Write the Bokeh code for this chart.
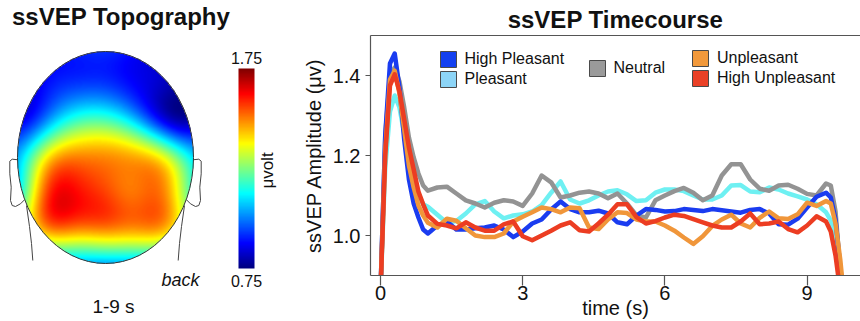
import numpy as np
from bokeh.plotting import figure
from bokeh.models import (Range1d, LinearAxis, FixedTicker, Legend, LegendItem, Label, Title,
                          LinearColorMapper, ColorBar, PrintfTickFormatter, ColumnDataSource)
from bokeh.layouts import row
from bokeh.embed import file_html
from bokeh.resources import INLINE

FONT = "Liberation Sans"
TXT = "#111111"
AX = "#555555"
W, H = 860, 321

# ---------------- timecourse data ----------------
TIME_S = [0.0, 0.1, 0.2, 0.3, 0.4, 0.5, 0.6, 0.7, 0.8, 0.9,
          1.0, 1.2, 1.4, 1.6, 1.8, 2.0, 2.2, 2.4, 2.6, 2.8,
          3.0, 3.2, 3.4, 3.6, 3.8, 4.0, 4.2, 4.4, 4.6, 4.8,
          5.0, 5.2, 5.4, 5.6, 5.8, 6.0, 6.2, 6.4, 6.6, 6.8,
          7.0, 7.2, 7.4, 7.6, 7.8, 8.0, 8.2, 8.4, 8.6, 8.8,
          9.0, 9.2, 9.4, 9.5, 9.6, 9.7, 9.8]

HIGH_PLEASANT = [0.86, 1.25, 1.43, 1.455, 1.37, 1.24, 1.14, 1.08, 1.045, 1.015,
                 1.005, 1.025, 1.035, 1.015, 1.015, 1.018, 1.02, 1.025, 1.015, 0.996,
                 1.01, 1.03, 1.04, 1.065, 1.085, 1.066, 1.058, 1.058, 1.062, 1.055,
                 1.033, 1.028, 1.05, 1.066, 1.064, 1.06, 1.061, 1.066, 1.064, 1.061,
                 1.066, 1.063, 1.06, 1.057, 1.064, 1.066, 1.055, 1.028, 1.027, 1.042,
                 1.07, 1.097, 1.107, 1.095, 1.04, 0.92, 0.82]

PLEASANT = [0.86, 1.17, 1.31, 1.35, 1.32, 1.255, 1.19, 1.14, 1.105, 1.078,
            1.072, 1.052, 1.032, 1.036, 1.055, 1.078, 1.086, 1.06, 1.043, 1.05,
            1.053, 1.06, 1.076, 1.107, 1.135, 1.09, 1.08, 1.088, 1.1, 1.11,
            1.113, 1.103, 1.086, 1.088, 1.107, 1.115, 1.115, 1.111, 1.1, 1.09,
            1.09, 1.1, 1.125, 1.126, 1.11, 1.108, 1.12, 1.115, 1.105, 1.098,
            1.09, 1.078, 1.058, 1.038, 0.992, 0.91, 0.82]

NEUTRAL = [0.86, 1.25, 1.40, 1.42, 1.385, 1.32, 1.245, 1.195, 1.155, 1.125,
           1.112, 1.12, 1.122, 1.105, 1.088, 1.08, 1.07, 1.082, 1.088, 1.085,
           1.074, 1.105, 1.15, 1.133, 1.095, 1.10, 1.107, 1.11, 1.105, 1.093,
           1.105, 1.08, 1.05, 1.045, 1.088, 1.1, 1.111, 1.119, 1.107, 1.088,
           1.1, 1.15, 1.178, 1.178, 1.14, 1.117, 1.112, 1.125, 1.127, 1.117,
           1.104, 1.1, 1.13, 1.125, 1.06, 0.91, 0.80]

UNPLEASANT = [0.86, 1.21, 1.39, 1.412, 1.355, 1.265, 1.175, 1.12, 1.075, 1.05,
              1.032, 1.02, 1.042, 1.037, 1.018, 1.0, 0.996, 0.996, 1.005, 1.035,
              1.047, 1.058, 1.07, 1.066, 1.058, 1.07, 1.068, 1.02, 1.016, 1.04,
              1.058, 1.056, 1.04, 1.035, 1.035, 1.025, 1.012, 0.995, 0.979, 0.998,
              1.024, 1.04, 1.052, 1.03, 1.02, 1.044, 1.06, 1.043, 1.041, 1.053,
              1.082, 1.074, 1.086, 1.08, 1.03, 0.94, 0.82]

HIGH_UNPLEASANT = [0.86, 1.2, 1.375, 1.403, 1.36, 1.29, 1.22, 1.165, 1.11, 1.078,
                   1.05, 1.029, 1.025, 1.018, 1.033, 1.02, 1.012, 1.012, 1.028, 1.035,
                   0.998, 0.988, 1.0, 1.012, 1.025, 1.033, 1.013, 1.01, 1.03, 1.052,
                   1.078, 1.078, 1.046, 1.03, 1.036, 1.045, 1.052, 1.049, 1.041, 1.033,
                   1.025, 1.02, 1.02, 1.035, 1.055, 1.028, 1.03, 1.035, 1.016, 1.008,
                   1.025, 1.048, 1.035, 1.01, 0.95, 0.86, 0.80]

SERIES_NAMES = ["High Pleasant", "Pleasant", "Neutral", "Unpleasant", "High Unpleasant"]
LINE_COLORS = {"High Pleasant": "#1a3cf0", "Pleasant": "#6ef0f2", "Neutral": "#939393",
               "Unpleasant": "#f0963a", "High Unpleasant": "#ec3d22"}
SWATCH_COLORS = {"High Pleasant": "#1340f0", "Pleasant": "#8dd5f7", "Neutral": "#9a9a9a",
                 "Unpleasant": "#f2993b", "High Unpleasant": "#ea4127"}
X_TICKS = [0, 3, 6, 9]
Y_TICKS = [1.0, 1.2, 1.4]

# ---------------- topography data (electrode grid, front -> back) ----------------
ELEC_X = [-1.0, -0.67, -0.33, 0.0, 0.33, 0.67, 1.0]
ELEC_Y = [-1.0, -0.67, -0.33, 0.0, 0.33, 0.67, 1.0]
TOPO_UV = [
    [0.85, 0.87, 0.91, 0.92, 0.88, 0.82, 0.81],
    [0.85, 0.89, 0.94, 0.94, 0.88, 0.81, 0.81],
    [0.87, 1.03, 1.20, 1.22, 1.10, 0.88, 0.82],
    [1.05, 1.38, 1.50, 1.49, 1.46, 1.35, 1.10],
    [1.10, 1.55, 1.62, 1.56, 1.51, 1.49, 1.17],
    [1.20, 1.48, 1.50, 1.50, 1.48, 1.45, 1.20],
    [1.00, 1.03, 1.05, 1.05, 1.05, 1.03, 1.00],
]
CBAR_LOW, CBAR_HIGH = 0.75, 1.75


def jet_palette(n=256):
    pal = []
    for i in range(n):
        t = i / (n - 1)
        r = min(max(1.5 - abs(4 * t - 3), 0), 1)
        g = min(max(1.5 - abs(4 * t - 2), 0), 1)
        b = min(max(1.5 - abs(4 * t - 1), 0), 1)
        pal.append("#%02x%02x%02x" % (int(r * 255), int(g * 255), int(b * 255)))
    return pal


# ---------------- left panel: topography ----------------
# left figure data coordinates: x = page pixel, y = H - page pixel (upward)
LW = 298
HCX, HCY, HRX, HRY = 105.0, H - 157.0, 88.0, 106.0

ex, ey = np.meshgrid(ELEC_X, ELEC_Y)
pts = np.column_stack([ex.ravel(), ey.ravel()])
vals = np.array(TOPO_UV).ravel()
s = 0.42
dd = np.sqrt(((pts[:, None, :] - pts[None, :, :]) ** 2).sum(-1))
K = np.exp(-(dd / s) ** 2)
w = np.linalg.solve(K + 1e-8 * np.eye(len(K)), vals - vals.mean())
nx, ny = int(2 * HRX), int(2 * HRY)
u = (np.arange(nx) + 0.5) / nx * 2 - 1
v = 1 - (np.arange(ny) + 0.5) / ny * 2  # row 0 = back of head (bottom)
U, V = np.meshgrid(u, v)
q = np.column_stack([U.ravel(), V.ravel()])
dq = np.sqrt(((q[:, None, :] - pts[None, :, :]) ** 2).sum(-1))
field = (np.exp(-(dq / s) ** 2) @ w + vals.mean()).reshape(ny, nx)
field = np.clip(field, CBAR_LOW, CBAR_HIGH)
field[U ** 2 + V ** 2 > 1.0] = np.nan

mapper = LinearColorMapper(palette=jet_palette(), low=CBAR_LOW, high=CBAR_HIGH,
                           nan_color="rgba(0, 0, 0, 0)")

left = figure(width=LW, height=H, x_range=Range1d(0, LW), y_range=Range1d(0, H),
              output_backend="svg", toolbar_location=None, min_border=0,
              x_axis_location=None, y_axis_location=None)
left.grid.visible = False
left.outline_line_color = None
left.frame_align = False

# ears and neck (offsets from head centre in pixels, y downward)
EAR = [(-87.3, 2.3), (-93.3, 1.7), (-95.7, 3.7), (-95.7, 16.3), (-94.3, 29.7), (-95.0, 43.0),
       (-93.3, 48.0), (-90.0, 49.0), (-85.0, 46.3), (-81.0, 42.3)]
NECK = [(-79.0, 48.0), (-76.0, 69.0), (-74.0, 86.0), (-72.7, 103.0)]
for sign in (1, -1):
    for shape in (EAR, NECK):
        left.line([HCX + sign * dx for dx, dy in shape], [HCY - dy for dx, dy in shape],
                  line_color="#444444", line_width=1)

left.image(image=[field], x=HCX - HRX, y=HCY - HRY, dw=2 * HRX, dh=2 * HRY, color_mapper=mapper)
left.ellipse(x=HCX, y=HCY, width=2 * HRX, height=2 * HRY, fill_color=None,
             line_color="#333333", line_width=1)

cb = ColorBar(color_mapper=mapper, location=(238, H - 268), width=16, height=200, padding=0,
              margin=0, ticker=FixedTicker(ticks=[]), major_label_text_font_size="0px",
              major_tick_line_color=None, minor_tick_line_color=None, bar_line_color=None,
              border_line_color=None, background_fill_alpha=0)
left.add_layout(cb)


def add_text(fig, x, y, text, size, **kw):
    fig.add_layout(Label(x=x, y=y, text=text, text_font=FONT, text_font_size=size,
                         text_color=TXT, **kw))


add_text(left, 11.5, H - 29, "ssVEP Topography", "24px", text_font_style="bold")
add_text(left, 246, H - 63.5, "%.2f" % CBAR_HIGH, "16px", text_align="center")
add_text(left, 246, H - 286, "%.2f" % CBAR_LOW, "16px", text_align="center")
add_text(left, 267, H - 170, "\u03bcvolt", "17px", text_align="center", text_baseline="middle",
         angle=np.pi / 2)
add_text(left, 161, H - 289, "back", "18px", text_font_style="italic")
add_text(left, 113, H - 316, "1-9 s", "19px", text_align="center")

# ---------------- right panel: timecourse ----------------
RW = W - LW
p = figure(width=RW, height=H, x_range=Range1d(-0.211, 10.127), y_range=Range1d(0.9, 1.5),
           output_backend="svg", toolbar_location=None,
           min_border_left=72, min_border_right=0, min_border_top=34, min_border_bottom=44)
p.grid.visible = False
p.outline_line_color = None
p.frame_align = False

p.title = Title(text="ssVEP Timecourse", align="center", text_font=FONT, text_font_size="24px",
                text_font_style="bold", text_color=TXT, standoff=6)

series = {"High Pleasant": HIGH_PLEASANT, "Pleasant": PLEASANT, "Neutral": NEUTRAL,
          "Unpleasant": UNPLEASANT, "High Unpleasant": HIGH_UNPLEASANT}
for name in ["Pleasant", "Neutral", "High Pleasant", "Unpleasant", "High Unpleasant"]:
    p.line(TIME_S, series[name], line_color=LINE_COLORS[name], line_width=4.5,
           line_join="round", line_cap="round")

for ax in (p.xaxis[0], p.yaxis[0]):
    ax.axis_line_color = AX
    ax.axis_line_width = 1.2
    ax.major_tick_line_color = AX
    ax.major_tick_line_width = 1.2
    ax.minor_tick_line_color = None
    ax.major_tick_in = 0
    ax.major_label_text_font = FONT
    ax.major_label_text_font_size = "20px"
    ax.major_label_text_color = TXT
    ax.axis_label_text_font = FONT
    ax.axis_label_text_font_size = "20px"
    ax.axis_label_text_font_style = "normal"
    ax.axis_label_text_color = TXT

p.xaxis.ticker = FixedTicker(ticks=X_TICKS)
p.xaxis.major_tick_out = 10
p.xaxis.major_label_standoff = 0
p.xaxis.axis_label = "time (s)"
p.xaxis.axis_label_standoff = -6
p.yaxis.ticker = FixedTicker(ticks=Y_TICKS)
p.yaxis.formatter = PrintfTickFormatter(format="%.1f")
p.yaxis.major_tick_out = 5
p.yaxis.major_label_standoff = 5
p.yaxis.axis_label = "ssVEP Amplitude (\u03bcv)"
p.yaxis.axis_label_standoff = 5

top = LinearAxis(ticker=FixedTicker(ticks=[]), major_label_text_font_size="0px",
                 major_tick_line_color=None, minor_tick_line_color=None,
                 major_tick_out=0, major_tick_in=0, major_label_standoff=0,
                 axis_line_color=AX, axis_line_width=1.2)
p.add_layout(top, "above")

# legend proxies (one NaN quad each, never visible in the plot area)
swatch = {}
for name in SERIES_NAMES:
    src = ColumnDataSource(dict(l=[np.nan], r=[np.nan], t=[np.nan], b=[np.nan]))
    swatch[name] = p.quad(left="l", right="r", top="t", bottom="b", source=src,
                          fill_color=SWATCH_COLORS[name], line_color="#4a4a4a", line_width=1)


def add_legend(names, loc):
    leg = Legend(items=[LegendItem(label=n, renderers=[swatch[n]]) for n in names],
                 location=loc, orientation="vertical", padding=0, margin=0, spacing=0,
                 glyph_width=20, glyph_height=20, label_standoff=7, label_height=20,
                 label_text_font=FONT, label_text_font_size="16px", label_text_color=TXT,
                 background_fill_alpha=0, border_line_color=None)
    p.add_layout(leg)


add_legend(["High Pleasant", "Pleasant"], (67.5, 186))
add_legend(["Neutral"], (216.5, 197))
add_legend(["Unpleasant", "High Unpleasant"], (320, 187))

layout = row(left, p)
open("out.html", "w").write(file_html(layout, INLINE))
